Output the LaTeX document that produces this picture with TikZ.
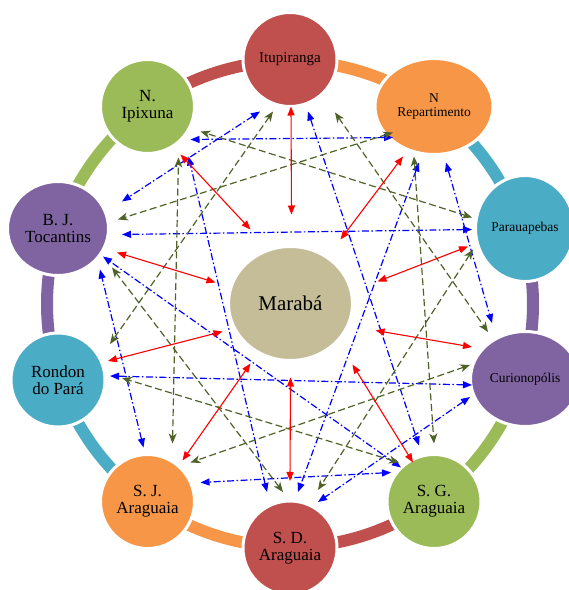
\documentclass[tikz,border=0pt]{standalone}
\usepackage{fontspec}
\setmainfont{Liberation Serif}
\usetikzlibrary{arrows.meta,calc,shapes.geometric}
\definecolor{cred}{HTML}{C0504D}
\definecolor{corange}{HTML}{F79646}
\definecolor{cteal}{HTML}{4BACC6}
\definecolor{cpurple}{HTML}{8064A2}
\definecolor{cgreen}{HTML}{9BBB59}
\definecolor{ctan}{HTML}{C4BD97}
\definecolor{dgreen}{HTML}{4F6228}
\begin{document}
\begin{tikzpicture}[x=1pt,y=1pt,
  town/.style={ellipse, draw=white, line width=3pt, inner sep=0pt, align=center, text=black,
    font=\fontsize{17}{17}\selectfont},
  circ/.style={town, minimum width=94pt, minimum height=94pt},
  smalltext/.style={font=\fontsize{13.5}{14.5}\selectfont},
  ringarc/.style={line width=12pt},
  bl/.style={draw=blue, line width=1.2pt, dash pattern=on 7pt off 2.5pt on 1.5pt off 2.5pt,
    {Triangle[length=9pt,width=7pt]}-{Triangle[length=9pt,width=7pt]}},
  gr/.style={draw=dgreen, line width=1.2pt, dash pattern=on 7pt off 3.5pt,
    {Stealth[length=10pt,width=8pt,inset=3pt]}-{Stealth[length=10pt,width=8pt,inset=3pt]}},
  rd/.style={draw=red, line width=1.1pt,
    {Triangle[length=9pt,width=7pt]}-{Triangle[length=9pt,width=7pt]}}
]
\useasboundingbox (0,0) rectangle (569,590);
\clip (0,0) rectangle (569,590);
\coordinate (C) at (290,286);
% ring arcs
\foreach \a/\c in {90/corange, 54/cteal, 18/cpurple, -18/cgreen, -54/cred,
                   -90/corange, -126/cteal, -162/cpurple, 162/cgreen, 126/cred}
  \draw[ringarc, \c] (C) ++(\a:243) arc[start angle=\a, end angle=\a-36, radius=243];
% nodes
\node[circ, fill=cred, font=\fontsize{15}{15}\selectfont] (itup) at (290,530.5) {Itupiranga};
\node[town, smalltext, fill=corange, minimum width=118pt, minimum height=96pt] (nrep) at (434,483.5) {N\\Repartimento};
\node[town, smalltext, fill=cteal, minimum width=99pt, minimum height=106pt] (para) at (525,361.5) {Parauapebas};
\node[town, smalltext, fill=cpurple, minimum width=109pt, minimum height=95pt] (curi) at (525,211) {Curionopólis};
\node[circ, fill=cgreen] (sg) at (434,88.5) {S. G.\\Araguaia};
\node[circ, fill=cred] (sd) at (290,42) {S. D.\\Araguaia};
\node[circ, fill=corange] (sj) at (147.5,88.5) {S. J.\\Araguaia};
\node[circ, fill=cteal] (rond) at (58,210) {Rondon\\do Pará};
\node[town, fill=cpurple, minimum width=101pt, minimum height=94pt] (bj) at (58,361.5) {B. J.\\Tocantins};
\node[circ, fill=cgreen] (nipi) at (147.5,483.5) {N.\\Ipixuna};
\node[town, fill=ctan, minimum width=124pt, minimum height=114pt, font=\fontsize{21}{21}\selectfont] (mar) at (290.5,286.5) {Marabá};
% blue dash-dot links
\draw[bl] ($(itup)+(-30,-52)$) -- ($(bj)+(64,27)$);
\draw[bl] ($(itup)+(18,-52)$) -- ($(sg)+(-15,56)$);
\draw[bl] ($(nrep)+(-41,-31)$) -- ($(nipi)+(43,-33)$);
\draw[bl] ($(nrep)+(-15,-56)$) -- ($(sd)+(8,56)$);
\draw[bl] ($(nrep)+(12,-56)$) -- ($(curi)+(-33,56)$);
\draw[bl] ($(para)+(-53,-1)$) -- ($(bj)+(64,-6)$);
\draw[bl] ($(curi)+(-53,-6)$) -- ($(rond)+(52,4)$);
\draw[bl] ($(curi)+(-55,-18)$) -- ($(sd)+(28,46)$);
\draw[bl] ($(sg)+(-33,34)$) -- ($(bj)+(45,-28)$);
\draw[bl] ($(sg)+(-43,29)$) -- ($(sj)+(53,19)$);
\draw[bl] ($(sd)+(-23,56)$) -- ($(nipi)+(41,-50)$);
\draw[bl] ($(sj)+(-4,54)$) -- ($(bj)+(42,-41)$);
% green dashed links
\draw[gr] ($(itup)+(-17,-52)$) -- ($(rond)+(52,36)$);
\draw[gr] ($(itup)+(45,-53)$) -- ($(curi)+(-37,47)$);
\draw[gr] ($(nrep)+(-41,-26)$) -- ($(bj)+(60,9)$);
\draw[gr] ($(nrep)+(-20,-50)$) -- ($(sg)+(0,58)$);
\draw[gr] ($(para)+(-53,11)$) -- ($(nipi)+(53,-25)$);
\draw[gr] ($(para)+(-52,-21)$) -- ($(sd)+(28,58)$);
\draw[gr] ($(curi)+(-55,14)$) -- ($(sj)+(43,39)$);
\draw[gr] ($(sg)+(-35,39)$) -- ($(rond)+(64,2)$);
\draw[gr] ($(sd)+(-7,56)$) -- ($(bj)+(54,-39)$);
\draw[gr] ($(sj)+(25,58)$) -- ($(nipi)+(31,-51)$);
% red links to Maraba
\draw[rd] ($(itup)+(1,-47)$) -- ($(mar)+(1,89)$);
\draw[rd] ($(nipi)+(33,-48)$) -- ($(mar)+(-40,74)$);
\draw[rd] ($(bj)+(59,-24)$) -- ($(mar)+(-75,21)$);
\draw[rd] ($(rond)+(50,19)$) -- ($(mar)+(-68,-28)$);
\draw[rd] ($(sj)+(35,41)$) -- ($(mar)+(-40,-60)$);
\draw[rd] ($(sd)+(0,67)$) -- ($(mar)+(0,-74)$);
\draw[rd] ($(sg)+(-21,39)$) -- ($(mar)+(62,-61)$);
\draw[rd] ($(curi)+(-53,32)$) -- ($(mar)+(85,-27)$);
\draw[rd] ($(para)+(-57,-18)$) -- ($(mar)+(87,22)$);
\draw[rd] ($(nrep)+(-31,-50)$) -- ($(mar)+(50,64)$);
\end{tikzpicture}
\end{document}
